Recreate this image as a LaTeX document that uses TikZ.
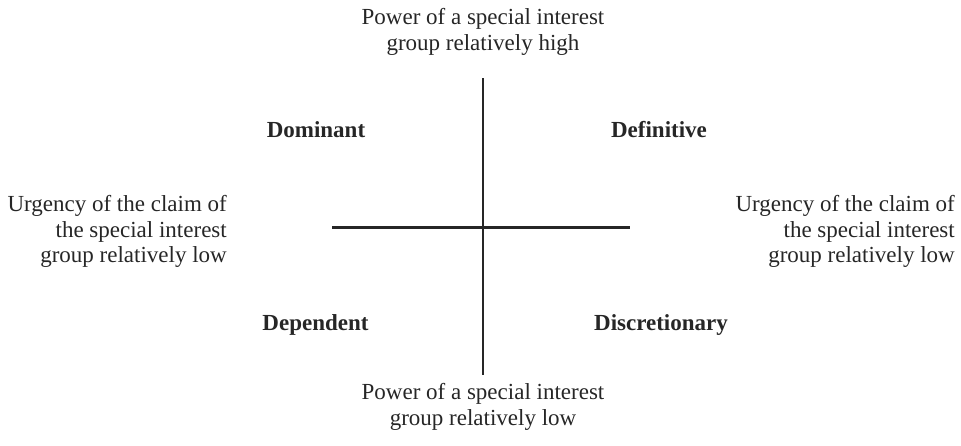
\documentclass[tikz,border=0pt]{standalone}
\usepackage{fontspec}
\setmainfont{Liberation Serif}
\begin{document}
\begin{tikzpicture}[x=1pt,y=-1pt,
  axis/.style={line width=2.5pt,black!85},
  txt/.style={inner sep=0pt,font=\fontsize{23}{25.7}\selectfont,text=black!85},
  quad/.style={inner sep=0pt,anchor=base,font=\fontsize{23}{26}\selectfont\bfseries,text=black!85}]
\useasboundingbox (0,0) rectangle (961,445);
\coordinate (vt) at (483,78);
\coordinate (vb) at (483,375);
\coordinate (hl) at (332,227.5);
\coordinate (hr) at (630,227.5);
\draw[axis] (vt) -- (vb);
\draw[axis] (hl) -- (hr);
\node[txt,align=center,anchor=north] (top) at (483,8) {Power of a special interest\\group relatively high};
\node[txt,align=center,anchor=north] (bot) at (483,383) {Power of a special interest\\group relatively low};
\node[txt,align=right,anchor=north east] (left) at (227,195) {Urgency of the claim of\\the special interest\\group relatively low};
\node[txt,align=right,anchor=north east] (right) at (955,195) {Urgency of the claim of\\the special interest\\group relatively low};
\node[quad] (dom) at (316,137) {Dominant};
\node[quad] (def) at (659,137) {Definitive};
\node[quad] (dep) at (315.5,330) {Dependent};
\node[quad] (dis) at (661,330) {Discretionary};
\end{tikzpicture}
\end{document}
